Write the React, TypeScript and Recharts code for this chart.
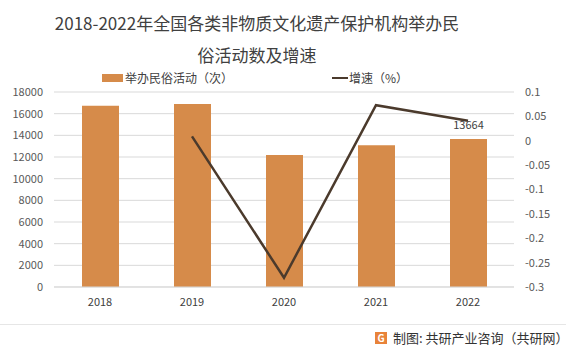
import React from "react";
import { ComposedChart, Bar, Line, XAxis, YAxis, CartesianGrid, LabelList } from "recharts";

const years = ["2018", "2019", "2020", "2021", "2022"];
const activities = [16740, 16890, 12180, 13080, 13664];
const growth: (number | null)[] = [null, 0.009, -0.281, 0.073, 0.041];
const leftTicks = [0, 2000, 4000, 6000, 8000, 10000, 12000, 14000, 16000, 18000];
const rightTicks = [-0.3, -0.25, -0.2, -0.15, -0.1, -0.05, 0, 0.05, 0.1];

const data = years.map((y, i) => ({ year: y, count: activities[i], rate: growth[i] }));

const FONT = "'Noto Sans CJK SC', 'Noto Sans', sans-serif";
const BAR = "#D68B4A";
const LINE = "#4B3A2C";

const fmtRate = (v: number) => String(Number(v.toFixed(2)));

const LastLabel = (props: any) => {
  const { x, y, width, value, index } = props;
  if (index !== years.length - 1) return null;
  return (
    <text x={x + width / 2} y={y - 10} textAnchor="middle" fontSize={11} fill="#404040" fontFamily={FONT}>
      {value}
    </text>
  );
};

export default function App() {
  return (
    <div style={{ position: "absolute", left: 0, top: 0, width: 570, height: 353, background: "#fff", fontFamily: FONT, overflow: "hidden" }}>
      <div style={{ position: "absolute", left: 0, width: 514, top: 7, textAlign: "center", fontSize: 17, lineHeight: "32px", color: "#404040" }}>
        <div>2018-2022年全国各类非物质文化遗产保护机构举办民</div>
        <div>俗活动数及增速</div>
      </div>
      <div style={{ position: "absolute", left: 102, top: 74, width: 21, height: 8, background: BAR }} />
      <div style={{ position: "absolute", left: 125, top: 70, fontSize: 12, lineHeight: "16px", color: "#404040" }}>举办民俗活动（次）</div>
      <div style={{ position: "absolute", left: 332, top: 77, width: 16, height: 2, background: LINE }} />
      <div style={{ position: "absolute", left: 349, top: 70, fontSize: 12, lineHeight: "16px", color: "#404040" }}>增速（%）</div>
      <div style={{ position: "absolute", left: 0, top: 0 }}>
        <ComposedChart width={570} height={353} data={data} margin={{ top: 92, right: 0, bottom: 0, left: 0 }}>
          <CartesianGrid vertical={false} stroke="#d9d9d9" yAxisId="left" />
          <XAxis dataKey="year" height={66} axisLine={{ stroke: "#d9d9d9" }} tickLine={false} tickSize={0} tickMargin={11}
            tick={{ fontSize: 11, fill: "#404040", fontFamily: FONT }} />
          <YAxis yAxisId="left" orientation="left" width={54} domain={[0, 18000]} ticks={leftTicks} interval={0}
            axisLine={false} tickLine={false} tickSize={0} tickMargin={11}
            tick={{ fontSize: 11, fill: "#595959", fontFamily: FONT }} />
          <YAxis yAxisId="right" orientation="right" width={56} domain={[-0.3, 0.1]} ticks={rightTicks} interval={0}
            axisLine={false} tickLine={false} tickSize={0} tickMargin={11} tickFormatter={fmtRate}
            tick={{ fontSize: 11, fill: "#595959", fontFamily: FONT, textAnchor: "start" }} />
          <Bar yAxisId="left" dataKey="count" fill={BAR} barSize={37} isAnimationActive={false}>
            <LabelList dataKey="count" content={LastLabel} />
          </Bar>
          <Line yAxisId="right" dataKey="rate" stroke={LINE} strokeWidth={2.5} dot={false} connectNulls={false} isAnimationActive={false} />
        </ComposedChart>
      </div>
      <div style={{ position: "absolute", left: 0, top: 324, width: 566, height: 1, background: "#e6e6e6" }} />
      <div style={{ position: "absolute", left: 375, top: 332, width: 12, height: 12, background: "#E8833A", color: "#fff", fontSize: 10, lineHeight: "12px", textAlign: "center", fontWeight: "bold" }}>G</div>
      <div style={{ position: "absolute", left: 393, top: 329, fontSize: 13, lineHeight: "18px", color: "#333" }}>制图: 共研产业咨询（共研网）</div>
    </div>
  );
}
